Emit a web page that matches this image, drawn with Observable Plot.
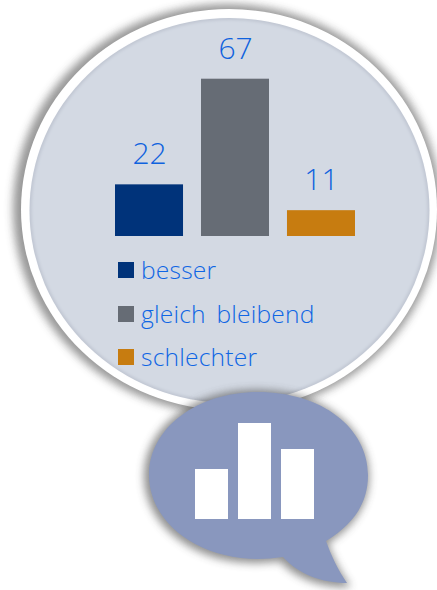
<!DOCTYPE html>
<html><head><meta charset="utf-8">
<style>
html,body{margin:0;padding:0;background:#fff;overflow:hidden}
#stage{position:relative;width:437px;height:590px;font-family:"Open Sans",sans-serif}
#stage>*{position:absolute;left:0;top:0}
.lg{position:absolute;left:118px;display:flex;align-items:center;height:32px;font-size:24.6px;font-weight:300;word-spacing:4px;letter-spacing:.2px;color:#0f66e4;white-space:nowrap}
.lg i{display:block;width:16px;height:16px;margin-right:7px}
.lg span{position:relative;top:-1px}
</style>
<script src="https://cdn.jsdelivr.net/npm/d3@7"></script>
<script src="https://cdn.jsdelivr.net/npm/@observablehq/plot@0.6"></script>
</head><body><div id="stage">
<svg width="437" height="590" id="back">
<defs>
<filter id="blur" x="-20%" y="-20%" width="140%" height="140%"><feGaussianBlur stdDeviation="4.5"/></filter>
<filter id="edge" x="-5%" y="-5%" width="110%" height="110%"><feGaussianBlur stdDeviation="1.5"/></filter>
<filter id="soft" x="-5%" y="-5%" width="110%" height="110%"><feGaussianBlur stdDeviation="0.6"/></filter>
</defs>
<ellipse cx="227" cy="209" rx="214" ry="205" fill="#444" opacity=".55" filter="url(#blur)"/>
<ellipse cx="229" cy="209.5" rx="208" ry="200.5" fill="#fff"/>
<ellipse cx="229.5" cy="210.5" rx="200" ry="192.5" fill="#c0c6d2"/>
<ellipse cx="229.5" cy="210.5" rx="198" ry="190.5" fill="#d3d9e3" filter="url(#edge)"/>
</svg>
<div id="chart"></div>
<div id="legend"></div>
<svg width="437" height="590" id="front">
<path d="M258 392C322 392 368 428 368 475C368 503 354 524 326 541C331 555 338 570 347 583C322 583 298 574 283 557C274 558 266 559 258 559C197 559 149 522 149 475C149 428 197 392 258 392Z" transform="translate(-2 1)" fill="#444" stroke="#444" stroke-width="6" opacity=".6" filter="url(#blur)"/>
<path d="M258 392C322 392 368 428 368 475C368 503 354 524 326 541C331 555 338 570 347 583C322 583 298 574 283 557C274 558 266 559 258 559C197 559 149 522 149 475C149 428 197 392 258 392Z" fill="#8997be" filter="url(#soft)"/>
<g fill="#fff" filter="url(#soft)">
<rect x="195" y="469" width="33" height="50"/>
<rect x="238" y="423" width="33" height="96"/>
<rect x="281" y="449" width="33" height="70"/>
</g>
</svg>
</div>
<script>
const categories = ["besser", "gleich bleibend", "schlechter"];
const values = [22, 67, 11];
const colors = ["#00337a", "#666c75", "#c77c10"];
const rows = categories.map((category, i) => ({category, value: values[i], color: colors[i]}));

const plot = Plot.plot({
  width: 437, height: 590,
  marginTop: 0, marginRight: 0, marginBottom: 0, marginLeft: 0,
  style: {background: "transparent", fontFamily: '"Open Sans",sans-serif'},
  x: {domain: categories, range: [115, 355], paddingInner: 0.209, paddingOuter: 0, round: false, axis: null},
  y: {domain: [0, 67], range: [236, 78.7], axis: null},
  marks: [
    Plot.barY(rows, {x: "category", y: "value", fill: "color"}),
    Plot.text(rows, {x: "category", y: "value", text: d => String(d.value), dy: -30, fill: "#0f62de",
      fontSize: 30, fontWeight: 300})
  ]
});
document.getElementById("chart").append(plot);

const legendTops = [254, 298, 341];
const legend = document.getElementById("legend");
rows.forEach((r, i) => {
  const el = document.createElement("div");
  el.className = "lg";
  el.style.top = legendTops[i] + "px";
  const sw = document.createElement("i");
  sw.style.background = r.color;
  const label = document.createElement("span");
  label.textContent = r.category;
  el.append(sw, label);
  legend.append(el);
});
</script>
</body></html>
